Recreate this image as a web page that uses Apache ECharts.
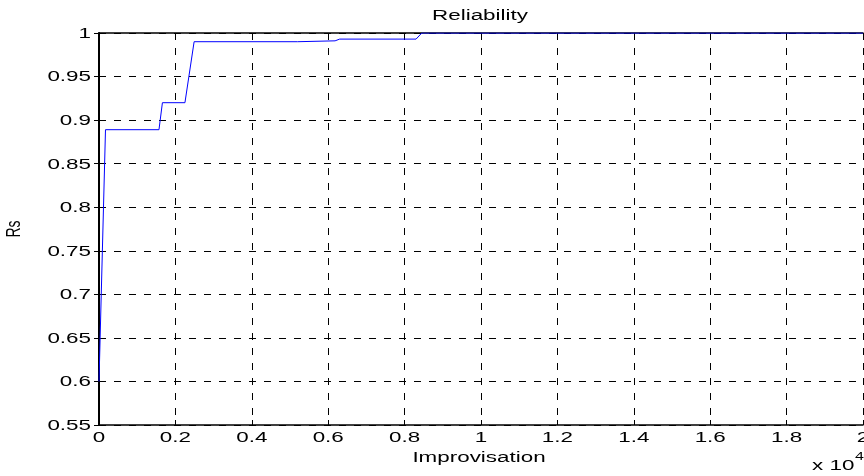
<!DOCTYPE html>
<html><head><meta charset="utf-8">
<script src="https://cdn.jsdelivr.net/npm/echarts@6/dist/echarts.min.js"></script>
<style>html,body{margin:0;padding:0;background:#fff}#c{width:864px;height:476px}</style>
</head><body><div id="c"></div>
<script>
// iterations (raw), reliability
const iterations = [0, 170, 1570, 1660, 2250, 2490, 5200, 5250, 6180, 6300, 8300, 8450, 20000];
const reliability = [0.6, 0.889, 0.889, 0.92, 0.92, 0.99, 0.99, 0.991, 0.991, 0.993, 0.993, 1.0, 1.0];
const xTicks = [0, 2000, 4000, 6000, 8000, 10000, 12000, 14000, 16000, 18000, 20000];
const xTickLabels = ['0', '0.2', '0.4', '0.6', '0.8', '1', '1.2', '1.4', '1.6', '1.8', '2'];
const yTicks = [0.55, 0.6, 0.65, 0.7, 0.75, 0.8, 0.85, 0.9, 0.95, 1];
const yTickLabels = ['0.55', '0.6', '0.65', '0.7', '0.75', '0.8', '0.85', '0.9', '0.95', '1'];
const titleText = 'Reliability';
const xName = 'Improvisation';
const yName = 'Rs';
const xExponent = ['x 10', '4'];

const data = iterations.map((x, i) => [x, reliability[i]]);
const font = 'Liberation Sans, Arial, sans-serif';
const SX = 1.6;
const chart = echarts.init(document.getElementById('c'));
const splitStyle = { color: '#000', type: [7, 8], width: 1 };
chart.setOption({
  animation: false,
  backgroundColor: '#fff',
  grid: { left: 99, top: 33, right: 1, bottom: 51, containLabel: false, outerBoundsMode: 'none' },
  xAxis: [{
    type: 'value', min: 0, max: 20000, interval: 2000,
    axisLine: { lineStyle: { color: '#000', width: 1.5 } },
    axisTick: { inside: true, length: 5, lineStyle: { color: '#000' } },
    axisLabel: { show: false },
    splitLine: { show: true, lineStyle: splitStyle }
  }, {
    type: 'value', position: 'top', min: 0, max: 20000, interval: 2000,
    axisLine: { show: true, lineStyle: { color: '#000', width: 1.5 } },
    axisTick: { show: false }, axisLabel: { show: false }, splitLine: { show: false }
  }],
  yAxis: [{
    type: 'value', min: 0.55, max: 1, interval: 0.05,
    axisLine: { show: true, lineStyle: { color: '#000', width: 2 } },
    axisTick: { show: true, inside: true, length: 5, lineStyle: { color: '#000' } },
    axisLabel: { show: false },
    splitLine: { show: true, lineStyle: splitStyle }
  }, {
    type: 'value', position: 'right', min: 0.55, max: 1, interval: 0.05,
    axisLine: { show: true, lineStyle: { color: '#000', width: 1 } },
    axisTick: { show: true, inside: true, length: 5, lineStyle: { color: '#000' } },
    axisLabel: { show: false }, splitLine: { show: false }
  }],
  series: [{
    type: 'line', data: data, showSymbol: false, symbol: 'none',
    lineStyle: { color: '#0000ff', width: 1 }, z: 5
  }]
});

// text elements, positioned from the axes' own scales, horizontally stretched like the source
const txt = (text, x, y, align, vAlign, size, extra) => Object.assign({
  type: 'text', x: x, y: y, scaleX: SX, silent: true,
  style: { text: text, fill: '#000', font: size + 'px ' + font, align: align, verticalAlign: vAlign }
}, extra || {});
const g = [];
const bottomPx = chart.convertToPixel({ gridIndex: 0 }, [0, 0.55])[1];
const topPx = chart.convertToPixel({ gridIndex: 0 }, [0, 1])[1];
const leftPx = chart.convertToPixel({ gridIndex: 0 }, [0, 0.55])[0];
const rightPx = chart.convertToPixel({ gridIndex: 0 }, [20000, 0.55])[0];
xTicks.forEach((v, i) => {
  const p = chart.convertToPixel({ gridIndex: 0 }, [v, 0.55]);
  g.push(txt(xTickLabels[i], p[0], bottomPx + 13, 'center', 'middle', 14));
});
yTicks.forEach((v, i) => {
  const p = chart.convertToPixel({ gridIndex: 0 }, [0, v]);
  g.push(txt(yTickLabels[i], leftPx - 8, p[1] + 1, 'right', 'middle', 14));
});
const midX = (leftPx + rightPx) / 2;
g.push(txt(titleText, midX - 1, topPx - 17, 'center', 'middle', 14));
g.push(txt(xName, midX - 2, bottomPx + 33, 'center', 'middle', 14));
g.push(txt(xExponent[0], rightPx - 51, bottomPx + 41, 'left', 'middle', 14));
g.push(txt(xExponent[1], rightPx - 8, bottomPx + 32, 'left', 'middle', 10));
g.push({
  type: 'text', x: 15, y: (topPx + bottomPx) / 2, rotation: Math.PI / 2, scaleY: 1.4, silent: true,
  style: { text: yName, fill: '#000', font: '14px ' + font, align: 'center', verticalAlign: 'middle' }
});
chart.setOption({ graphic: g });
</script></body></html>
